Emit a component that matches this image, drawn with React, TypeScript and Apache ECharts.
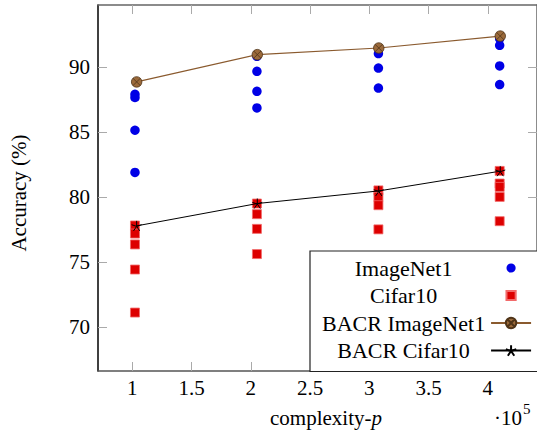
import React, { useEffect, useRef } from 'react';
import * as echarts from 'echarts';

// complexity-p (x 10^5) of each configuration column
const complexity = [1.023, 2.052, 3.077, 4.1];
// accuracies (%) per column
const imagenetAcc = [
  [87.9, 87.65, 85.13, 81.88],
  [90.82, 89.67, 88.13, 86.85],
  [91.03, 89.92, 88.38],
  [92.18, 91.67, 90.08, 88.65],
];
const cifarAcc = [
  [77.8, 77.18, 76.34, 74.41, 71.1],
  [79.49, 78.67, 77.54, 75.6],
  [80.5, 80.0, 79.36, 77.5],
  [82.0, 81.03, 80.77, 80.0, 78.13],
];
const bacrComplexity = [1.037, 2.055, 3.08, 4.105];
const bacrImagenet = [88.85, 90.95, 91.46, 92.38];
const bacrCifar = [77.77, 79.49, 80.46, 81.98];

const xTicks = [1, 1.5, 2, 2.5, 3, 3.5, 4];
const yTicks = [70, 75, 80, 85, 90];
const seriesNames = ['ImageNet1', 'Cifar10', 'BACR ImageNet1', 'BACR Cifar10'];

const FONT = "'Liberation Serif', 'Times New Roman', serif";
const OTIMES = 'path://M10,0 A10,10 0 1 1 -10,0 A10,10 0 1 1 10,0 Z M-7.07,-7.07 L7.07,7.07 M-7.07,7.07 L7.07,-7.07';
const STAR = 'path://M0,-10 L0,0 M0,0 L9.51,-3.09 M0,0 L5.88,8.09 M0,0 L-5.88,8.09 M0,0 L-9.51,-3.09';
const LEG_CIRCLE = 'path://M-6.5,-6.5 M6.5,6.5 M4.6,0 A4.6,4.6 0 1 1 -4.6,0 A4.6,4.6 0 1 1 4.6,0 Z';
const LEG_SQUARE = 'path://M-6.5,-6.5 M6.5,6.5 M-4.6,-4.6 L4.6,-4.6 L4.6,4.6 L-4.6,4.6 Z';

const pairs = (xs: number[], groups: number[][]) =>
  xs.flatMap((x, i) => groups[i].map((v) => [x, v]));

export default function App() {
  const ref = useRef<HTMLDivElement>(null);
  useEffect(() => {
    if (!ref.current) return;
    const chart = echarts.init(ref.current, undefined, { renderer: 'svg' });
    const xMin = 0.711;
    const xMax = 4.415;
    const yMin = 66.6;
    const yMax = 94.77;
    const tickStyle = { color: '#aaaaaa', width: 1 };
    const labelFmt = (arr: number[]) => (v: number) =>
      arr.some((t) => Math.abs(t - v) < 1e-6) ? String(v) : '';
    const option: any = {
      animation: false,
      backgroundColor: '#ffffff',
      grid: { left: 98, top: 5, right: -1, bottom: 66, containLabel: false },
      xAxis: [
        {
          type: 'value', min: xMin, max: xMax, splitNumber: 7, position: 'bottom',
          axisLine: { show: true, lineStyle: { color: '#555', width: 1.5 } },
          axisTick: { show: true, inside: true, length: 9, lineStyle: tickStyle, customValues: xTicks },
          axisLabel: {
            show: true, customValues: xTicks, margin: 6, fontSize: 21, fontFamily: FONT, color: '#000',
            formatter: labelFmt(xTicks),
          },
          splitLine: { show: false },
        },
        {
          type: 'value', min: xMin, max: xMax, splitNumber: 7, position: 'top',
          axisLine: { show: true, lineStyle: { color: '#666', width: 1.5 } },
          axisTick: { show: true, inside: true, length: 9, lineStyle: tickStyle, customValues: xTicks },
          axisLabel: { show: false },
          splitLine: { show: false },
        },
      ],
      yAxis: [
        {
          type: 'value', min: yMin, max: yMax, splitNumber: 6, position: 'left',
          axisLine: { show: true, lineStyle: { color: '#000', width: 1.5 } },
          axisTick: { show: true, inside: true, length: 9, lineStyle: tickStyle, customValues: yTicks },
          axisLabel: {
            show: true, customValues: yTicks, margin: 8, fontSize: 21, fontFamily: FONT, color: '#000',
            formatter: labelFmt(yTicks),
          },
          splitLine: { show: false },
        },
        {
          type: 'value', min: yMin, max: yMax, splitNumber: 6, position: 'right',
          axisLine: { show: true, lineStyle: { color: '#666', width: 1.5 } },
          axisTick: { show: true, inside: true, length: 9, lineStyle: tickStyle, customValues: yTicks },
          axisLabel: { show: false },
          splitLine: { show: false },
        },
      ],
      legend: {
        orient: 'vertical',
        left: 310,
        top: 251,
        align: 'right',
        itemWidth: 40,
        itemHeight: 13,
        itemGap: 5.5,
        padding: [6, 6, 10, 12],
        backgroundColor: '#ffffff',
        borderColor: '#222',
        borderWidth: 1.2,
        borderRadius: 0,
        selectedMode: false,
        formatter: '{t|{name}}',
        textStyle: {
          fontFamily: FONT,
          fontSize: 22,
          color: '#000',
          rich: {
            t: { width: 165, align: 'center', fontSize: 22, fontFamily: FONT, color: '#000' },
          },
        },
        data: [
          { name: seriesNames[0], icon: LEG_CIRCLE },
          { name: seriesNames[1], icon: LEG_SQUARE },
          { name: seriesNames[2] },
          { name: seriesNames[3] },
        ],
      },
      series: [
        {
          name: seriesNames[0], type: 'scatter', xAxisIndex: 0, yAxisIndex: 0,
          symbol: 'circle', symbolSize: 9.5,
          itemStyle: { color: '#0000e6', opacity: 1 },
          data: pairs(complexity, imagenetAcc),
        },
        {
          name: seriesNames[1], type: 'scatter', xAxisIndex: 0, yAxisIndex: 0,
          symbol: 'rect', symbolSize: 9,
          itemStyle: { color: '#dd0000', borderColor: '#f26a6a', borderWidth: 0.8, opacity: 1 },
          data: pairs(complexity, cifarAcc),
        },
        {
          name: seriesNames[2], type: 'line', xAxisIndex: 0, yAxisIndex: 0,
          symbol: OTIMES, symbolSize: 10.5, showSymbol: true,
          lineStyle: { color: '#8a5a2e', width: 1.2 },
          itemStyle: { color: '#9b6a3b', borderColor: '#4f3418', borderWidth: 0.8 },
          data: bacrComplexity.map((x, i) => [x, bacrImagenet[i]]),
        },
        {
          name: seriesNames[3], type: 'line', xAxisIndex: 0, yAxisIndex: 0,
          symbol: STAR, symbolSize: 10, showSymbol: true,
          lineStyle: { color: '#000', width: 1 },
          itemStyle: { color: '#000', borderColor: '#000', borderWidth: 1 },
          data: bacrComplexity.map((x, i) => [x, bacrCifar[i]]),
        },
      ],
      graphic: [
        {
          type: 'text', x: 19, y: 193, rotation: Math.PI / 2,
          style: { text: 'Accuracy (%)', fontFamily: FONT, fontSize: 21, fill: '#000', align: 'center', verticalAlign: 'middle' },
        },
        {
          type: 'text', x: 270, y: 418,
          style: {
            text: 'complexity-{i|p}', fontFamily: FONT, fontSize: 21, fill: '#000', align: 'left', verticalAlign: 'middle',
            rich: { i: { fontFamily: FONT, fontSize: 21, fontStyle: 'italic', fill: '#000' } },
          },
        },
        {
          type: 'text', x: 494, y: 418,
          style: { text: '·10', fontFamily: FONT, fontSize: 21, fill: '#000', align: 'left', verticalAlign: 'middle' },
        },
        {
          type: 'text', x: 523, y: 409,
          style: { text: '5', fontFamily: FONT, fontSize: 15, fill: '#000', align: 'left', verticalAlign: 'middle' },
        },
      ],
    };
    chart.setOption(option);
    return () => chart.dispose();
  }, []);
  return (
    <div
      ref={ref}
      style={{ position: 'fixed', left: 0, top: 0, width: 537, height: 437, background: '#fff' }}
    />
  );
}
